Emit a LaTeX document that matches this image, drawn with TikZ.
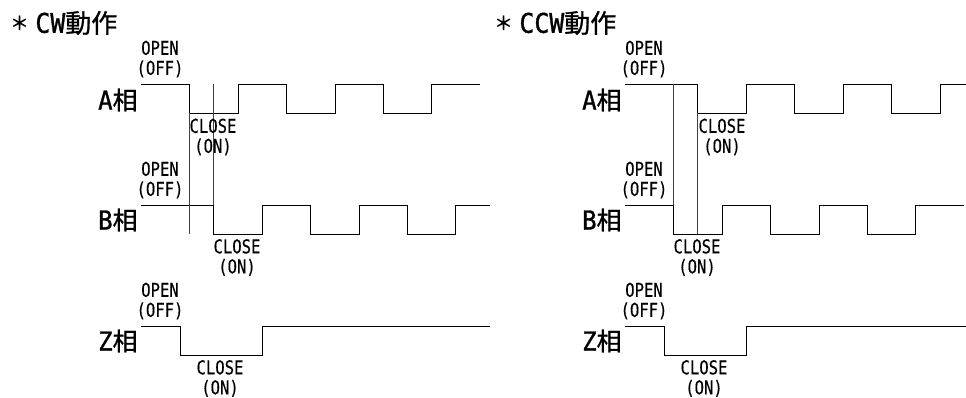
\documentclass[tikz,border=0pt]{standalone}
\usepackage{fontspec}
\usepackage{tikz}

\newfontfamily\latinfont[FakeStretch=0.82,FakeBold=0.3]{DejaVu Sans Mono}
\newfontfamily\headfont[FakeStretch=0.92,FakeBold=1.2]{DejaVu Sans Mono}
\newfontfamily\jpfont[FakeBold=1]{Noto Sans CJK JP}
\newfontfamily\starfont{Noto Sans CJK JP Bold}
\newcommand{\headtext}[1]{\raisebox{2pt}{\fontsize{19}{19}\selectfont\starfont ＊}\hspace{6pt}{\fontsize{27}{27}\selectfont\headfont #1}{\fontsize{26}{26}\selectfont\jpfont 動作}}
\newcommand{\phasetext}[1]{{\fontsize{26}{26}\selectfont\headfont #1}{\fontsize{25}{25}\selectfont\jpfont 相}}

\begin{document}
\begin{tikzpicture}[x=1pt,y=-1pt,line width=0.8pt,
    guide/.style={line width=0.5pt,black!75},
    level/.style={align=center,inner sep=0pt,font=\fontsize{19}{20}\selectfont\latinfont},
    head/.style={anchor=west,inner sep=0pt},
    phase/.style={anchor=east,inner sep=0pt}]
  \useasboundingbox (0,0) rectangle (966,398);

  % CW
  \node[head] (cwhead) at (10,23) {\headtext{CW}};
  \node[phase] (cwa) at (138,100) {\phasetext{A}};
  \node[phase] (cwb) at (138,220) {\phasetext{B}};
  \node[phase] (cwz) at (138,341) {\phasetext{Z}};

  \draw (141,84.5) -- (189.5,84.5) -- (189.5,113.5) -- (238,113.5) -- (238,84.5)
     -- (286.5,84.5) -- (286.5,113.5) -- (335,113.5) -- (335,84.5) -- (383,84.5)
     -- (383,113.5) -- (431.5,113.5) -- (431.5,84.5) -- (480,84.5);
  \draw (141,205) -- (213.5,205) -- (213.5,234) -- (262,234) -- (262,205)
     -- (310.5,205) -- (310.5,234) -- (359,234) -- (359,205) -- (407,205)
     -- (407,234) -- (455.5,234) -- (455.5,205) -- (490,205);
  \draw (141,326.5) -- (180,326.5) -- (180,355) -- (262,355) -- (262,326.5) -- (490,326.5);
  \draw[guide] (189,113.5) -- (189,234);
  \draw[guide] (213.5,84.5) -- (213.5,205);

  \node[level] (cwaopen) at (160,59) {OPEN\\(OFF)};
  \node[level] (cwaclose) at (213,137) {CLOSE\\(ON)};
  \node[level] (cwbopen) at (160,180) {OPEN\\(OFF)};
  \node[level] (cwbclose) at (237,257.5) {CLOSE\\(ON)};
  \node[level] (cwzopen) at (160,301) {OPEN\\(OFF)};
  \node[level] (cwzclose) at (220,378.5) {CLOSE\\(ON)};

  % CCW
  \node[head] (ccwhead) at (494,23) {\headtext{CCW}};
  \node[phase] (ccwa) at (622,100) {\phasetext{A}};
  \node[phase] (ccwb) at (622,220) {\phasetext{B}};
  \node[phase] (ccwz) at (622,341) {\phasetext{Z}};

  \draw (625,84.5) -- (697.5,84.5) -- (697.5,113.5) -- (746,113.5) -- (746,84.5)
     -- (794.5,84.5) -- (794.5,113.5) -- (843,113.5) -- (843,84.5) -- (891,84.5)
     -- (891,113.5) -- (940,113.5) -- (940,84.5) -- (966,84.5);
  \draw (625,205) -- (673.5,205) -- (673.5,234) -- (722,234) -- (722,205)
     -- (770.5,205) -- (770.5,234) -- (819,234) -- (819,205) -- (867,205)
     -- (867,234) -- (915.5,234) -- (915.5,205) -- (964,205);
  \draw (625,326.5) -- (664,326.5) -- (664,355) -- (746,355) -- (746,326.5) -- (966,326.5);
  \draw[guide] (673,84.5) -- (673,205);
  \draw[guide] (697.5,113.5) -- (697.5,234);

  \node[level] (ccwaopen) at (644,59) {OPEN\\(OFF)};
  \node[level] (ccwaclose) at (722,137) {CLOSE\\(ON)};
  \node[level] (ccwbopen) at (644,180) {OPEN\\(OFF)};
  \node[level] (ccwbclose) at (697,257.5) {CLOSE\\(ON)};
  \node[level] (ccwzopen) at (644,301) {OPEN\\(OFF)};
  \node[level] (ccwzclose) at (704,378.5) {CLOSE\\(ON)};
\end{tikzpicture}
\end{document}
